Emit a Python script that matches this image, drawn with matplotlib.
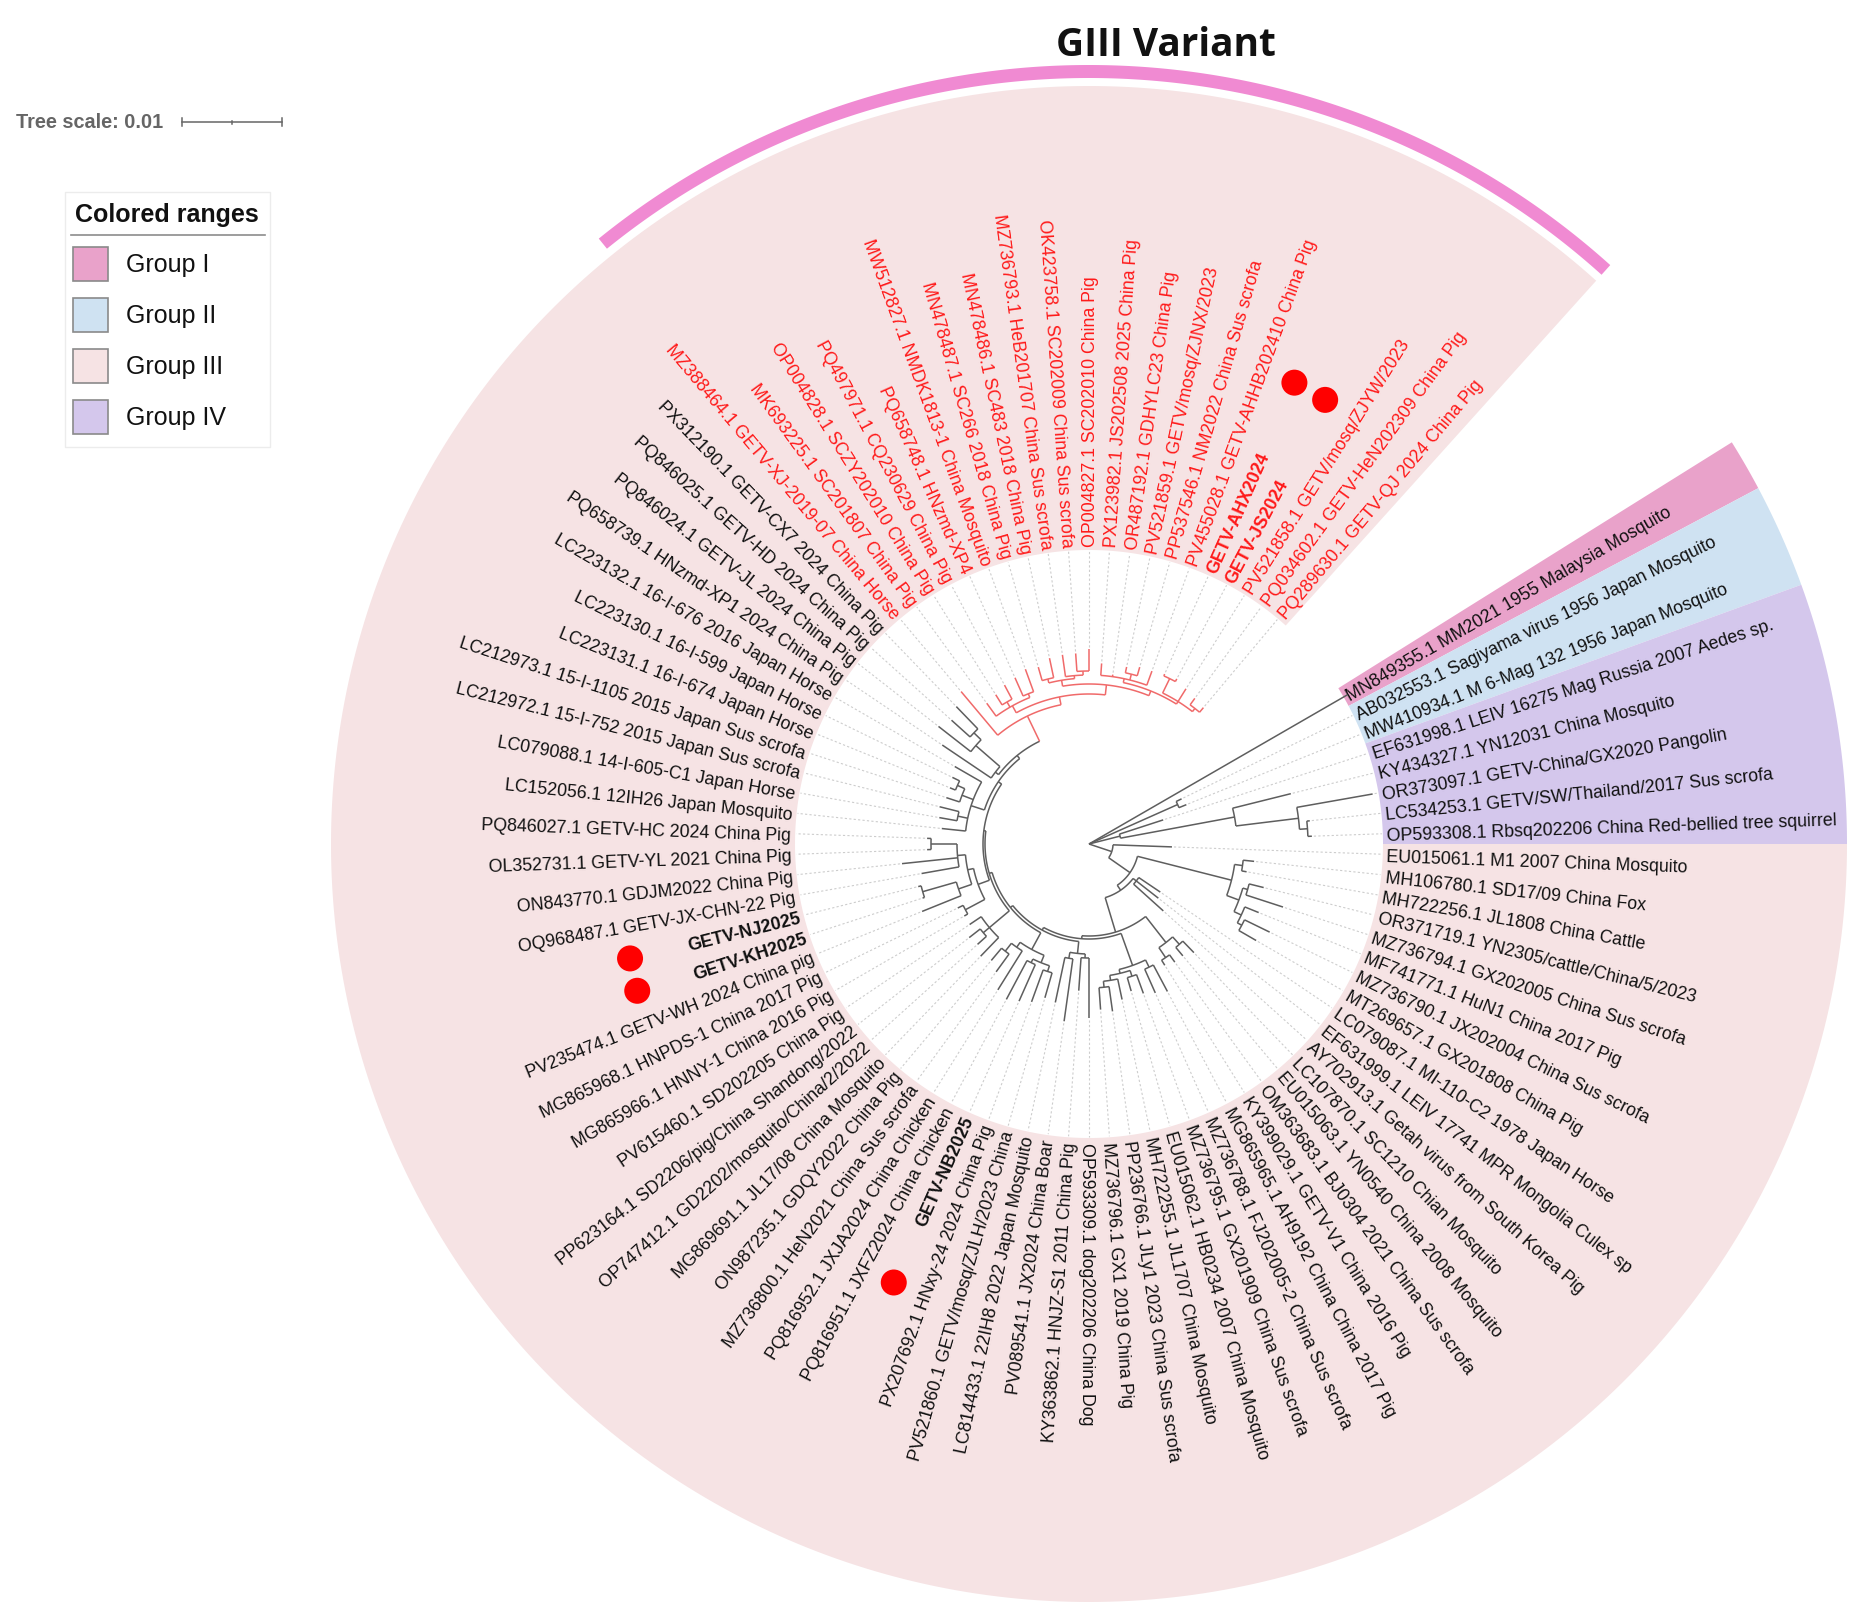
import numpy as np
import matplotlib.pyplot as plt
import matplotlib.patches as patches
from matplotlib.collections import LineCollection

# leaf labels, clockwise starting at Group I
labels = [
    'MN849355.1 MM2021 1955 Malaysia Mosquito',
    'AB032553.1 Sagiyama virus 1956 Japan Mosquito',
    'MW410934.1 M 6-Mag 132 1956 Japan Mosquito',
    'EF631998.1 LEIV 16275 Mag Russia 2007 Aedes sp.',
    'KY434327.1 YN12031 China Mosquito',
    'OR373097.1 GETV-China/GX2020 Pangolin',
    'LC534253.1 GETV/SW/Thailand/2017 Sus scrofa',
    'OP593308.1 Rbsq202206 China Red-bellied tree squirrel',
    'EU015061.1 M1 2007 China Mosquito',
    'MH106780.1 SD17/09 China Fox',
    'MH722256.1 JL1808 China Cattle',
    'OR371719.1 YN2305/cattle/China/5/2023',
    'MZ736794.1 GX202005 China Sus scrofa',
    'MF741771.1 HuN1 China 2017 Pig',
    'MZ736790.1 JX202004 China Sus scrofa',
    'MT269657.1 GX201808 China Pig',
    'LC079087.1 MI-110-C2 1978 Japan Horse',
    'EF631999.1 LEIV 17741 MPR Mongolia Culex sp',
    'AY702913.1 Getah virus from South Korea Pig',
    'LC107870.1 SC1210 Chian Mosquito',
    'EU015063.1 YN0540 China 2008 Mosquito',
    'OM363683.1 BJ0304 2021 China Sus scrofa',
    'KY399029.1 GETV-V1 China 2016 Pig',
    'MG865965.1 AH9192 China China 2017 Pig',
    'MZ736788.1 FJ202005-2 China Sus scrofa',
    'MZ736795.1 GX201909 China Sus scrofa',
    'EU015062.1 HB0234 2007 China Mosquito',
    'MH722255.1 JL1707 China Mosquito',
    'PP236766.1 JLy1 2023 China Sus scrofa',
    'MZ736796.1 GX1 2019 China Pig',
    'OP593309.1 dog202206 China Dog',
    'KY363862.1 HNJZ-S1 2011 China Pig',
    'PV089541.1 JX2024 China Boar',
    'LC814433.1 22IH8 2022 Japan Mosquito',
    'PV521860.1 GETV/mosq/ZJLH/2023 China',
    'PX207692.1 HNxy-24 2024 China Pig',
    'GETV-NB2025',
    'PQ816951.1 JXFZ2024 China Chicken',
    'PQ816952.1 JXJA2024 China Chicken',
    'MZ736800.1 HeN2021 China Sus scrofa',
    'ON987235.1 GDQY2022 China Pig',
    'MG869691.1 JL17/08 China Mosquito',
    'OP747412.1 GD2202/mosquito/China/2/2022',
    'PP623164.1 SD2206/pig/China Shandong/2022',
    'PV615460.1 SD202205 China Pig',
    'MG865966.1 HNNY-1 China 2016 Pig',
    'MG865968.1 HNPDS-1 China 2017 Pig',
    'PV235474.1 GETV-WH 2024 China pig',
    'GETV-KH2025',
    'GETV-NJ2025',
    'OQ968487.1 GETV-JX-CHN-22 Pig',
    'ON843770.1 GDJM2022 China Pig',
    'OL352731.1 GETV-YL 2021 China Pig',
    'PQ846027.1 GETV-HC 2024 China Pig',
    'LC152056.1 12IH26 Japan Mosquito',
    'LC079088.1 14-I-605-C1 Japan Horse',
    'LC212972.1 15-I-752 2015 Japan Sus scrofa',
    'LC212973.1 15-I-1105 2015 Japan Sus scrofa',
    'LC223131.1 16-I-674 Japan Horse',
    'LC223130.1 16-I-599 Japan Horse',
    'LC223132.1 16-I-676 2016 Japan Horse',
    'PQ658739.1 HNzmd-XP1 2024 China Pig',
    'PQ846024.1 GETV-JL 2024 China Pig',
    'PQ846025.1 GETV-HD 2024 China Pig',
    'PX312190.1 GETV-CX7 2024 China Pig',
    'MZ388464.1 GETV-XJ-2019-07 China Horse',
    'MK693225.1 SC201807 China Pig',
    'OP004828.1 SCZY202010 China Pig',
    'PQ497971.1 CQ230629 China Pig',
    'PQ658748.1 HNzmd-XP4',
    'MW512827.1 NMDK1813-1 China Mosquito',
    'MN478487.1 SC266 2018 China Pig',
    'MN478486.1 SC483 2018 China Pig',
    'MZ736793.1 HeB201707 China Sus scrofa',
    'OK423758.1 SC202009 China Sus scrofa',
    'OP004827.1 SC202010 China Pig',
    'PX123982.1 JS202508 2025 China Pig',
    'OR487192.1 GDHYLC23 China Pig',
    'PV521859.1 GETV/mosq/ZJNX/2023',
    'PP537546.1 NM2022 China Sus scrofa',
    'PV455028.1 GETV-AHHB202410 China Pig',
    'GETV-AHX2024',
    'GETV-JS2024',
    'PV521858.1 GETV/mosq/ZJYW/2023',
    'PQ034602.1 GETV-HeN202309 China Pig',
    'PQ289630.1 GETV-QJ 2024 China Pig',
]

variant_leaves = list(range(65, 86))     # GIII Variant (red)
bold_leaves = [36, 48, 49, 81, 82]       # new isolates
dot_leaves = [81, 82, 49, 48, 36]

group_names = ['Group I', 'Group II', 'Group III', 'Group IV']
group_colors = ['#e9a2ca', '#cfe2f2', '#f6e3e4', '#d4c7ec']
group_first = [0, 1, 8, 3]
group_last = [0, 2, 85, 7]

# tree, branch lengths in 1e-4 substitutions/site, leaves named by index
red_a = '(66:16,(67:12,68:16):6,(69:20,70:24):4)'
red_b = '((71:14,72:20):4,(73:22,(74:18,75:22):4):3)'
red_c = '(76:12,77:2,(78:6,79:9):6,80:15)'
red_d = '((81:2,82:3):16,83:15,(84:8,85:6):4)'
clade_red = '(65:57,(' + red_a + ':8,(' + red_b + ':6,(' + red_c + ':4,' + red_d + ':3):5):10):8)'
clade_61 = '(61:59,(62:41,(63:25,64:31):10):32)'
clade_54 = '(54:24,(55:18,56:20):10,(57:14,(58:6,59:8):8):12,60:31)'
clade_45 = '((45:4,46:6):22,((47:42,(48:2,49:3):35):14,(50:38,51:56,(52:4,53:4):26):8):6)'
clade_41 = '(41:26,(42:12,43:14):8,44:14)'
clade_34 = '(((34:26,35:34):6,(36:40,37:44):4):8,(38:46,(39:22,40:16):10):6)'
clade_30 = '((30:60,31:33):4,(32:63,33:46):6)'
clade_23 = '((23:30,24:26):8,((25:20,26:14):6,(27:21,(28:25,29:22):6):5):4)'
clade_19 = '((19:16,20:11):10,(21:9,22:6):12)'
clade_9 = '((9:11,10:5):8,((11:15,12:39):5,(13:15,(14:28,15:20):5):8):13)'

bb8 = '(' + clade_61 + ':4,' + clade_red + ':28)'
bb7 = '(' + clade_54 + ':14,' + bb8 + ':4)'
bb6 = '(' + clade_45 + ':12,' + bb7 + ':4)'
bb5 = '(' + clade_41 + ':26,' + bb6 + ':2)'
bb4 = '(' + clade_34 + ':19,' + bb5 + ':3)'
bb3 = '(' + clade_30 + ':12,' + bb4 + ':3)'
bb2 = '(' + clade_23 + ':34,' + bb3 + ':3)'
bb1 = '(' + clade_19 + ':33,' + bb2 + ':3)'
group3 = '(8:59,(' + clade_9 + ':97,((16:26,17:28,18:40):4,' + bb1 + ':36):6):26)'
newick = ('(0:298,(1:6,2:8):97,(3:46,(4:60,(5:77,(6:3,7:4):8):63):116):32,'
          + group3 + ':24);')

# layout
cx, cy = 1089, 845
first_angle, step = 30.0, 4.0
px_per_unit = 1.0          # 1e-4 subs/site -> px (0.01 = 100 px)
r_label = 298
r_in, r_out = 294, 758


def xy(r, a):
    t = np.radians(a)
    return cx + r * np.cos(t), cy - r * np.sin(t)


def leaf_angle(i):
    return first_angle - step * i


def parse_newick(s):
    pos = 0

    def read():
        nonlocal pos
        kids = []
        if s[pos] == '(':
            pos += 1
            kids.append(read())
            while s[pos] == ',':
                pos += 1
                kids.append(read())
            pos += 1
        start = pos
        while s[pos] not in ':,);':
            pos += 1
        name = s[start:pos]
        length = 0.0
        if s[pos] == ':':
            pos += 1
            start = pos
            while s[pos] not in ',);':
                pos += 1
            length = float(s[start:pos])
        return {'name': name, 'len': length, 'kids': kids}
    return read()


def place(node, r_parent):
    node['r'] = r_parent + node['len'] * px_per_unit
    if node['kids']:
        for k in node['kids']:
            place(k, node['r'])
        node['a'] = (node['kids'][0]['a'] + node['kids'][-1]['a']) / 2
        node['leaves'] = [i for k in node['kids'] for i in k['leaves']]
    else:
        node['a'] = leaf_angle(int(node['name']))
        node['leaves'] = [int(node['name'])]


black, red = '#5e5e5e', '#f06a6a'
segs = {black: [], red: []}
tips = []


def collect(node, color):
    if not node['kids']:
        tips.append(node)
        return
    angs = [k['a'] for k in node['kids']]
    if node['r'] > 0:
        a = np.linspace(min(angs), max(angs), 60)
        x, y = xy(node['r'], a)
        segs[color].append(np.column_stack([x, y]))
    for k in node['kids']:
        kc = red if sorted(k['leaves']) == variant_leaves else color
        x0, y0 = xy(node['r'], k['a'])
        x1, y1 = xy(k['r'], k['a'])
        segs[kc].append(np.array([[x0, y0], [x1, y1]]))
        collect(k, kc)


tree = parse_newick(newick)
place(tree, 0.0)
collect(tree, black)

fig = plt.figure(figsize=(18.56, 16.15), dpi=100)
ax = fig.add_axes([0, 0, 1, 1])
ax.set_xlim(0, 1856)
ax.set_ylim(1615, 0)
ax.axis('off')


def sector(r0, r1, a1, a2, color, z=0):
    a = np.linspace(a1, a2, 400)
    xo, yo = xy(r1, a)
    xi, yi = xy(r0, a[::-1])
    pts = np.column_stack([np.concatenate([xo, xi]), np.concatenate([yo, yi])])
    ax.add_patch(patches.Polygon(pts, closed=True, facecolor=color,
                                 edgecolor='none', zorder=z))


# colored ranges
for name, col, f, l in zip(group_names, group_colors, group_first, group_last):
    sector(r_in, r_out, leaf_angle(l) - step / 2, leaf_angle(f) + step / 2, col)

# GIII Variant arc
sector(766, 779, leaf_angle(variant_leaves[-1]) - step / 2,
       leaf_angle(variant_leaves[0]) - 1, '#f08ad2')
ax.text(1166, 45, 'GIII Variant', ha='center', va='center', fontsize=28,
        fontweight='bold', family=['Open Sans', 'DejaVu Sans'], color='#111111')

# branches
for col, s in segs.items():
    ax.add_collection(LineCollection(s, colors=col, linewidths=1.1,
                                     capstyle='butt', zorder=3))

# dotted connectors and labels
conn = []
for t in tips:
    x0, y0 = xy(t['r'] + 2, t['a'])
    x1, y1 = xy(r_label - 5, t['a'])
    conn.append(np.array([[x0, y0], [x1, y1]]))
ax.add_collection(LineCollection(conn, colors='#cdcdcd', linewidths=0.8,
                                 linestyles=(0, (2, 2)), zorder=2))

for i, lab in enumerate(labels):
    a = leaf_angle(i) % 360
    x, y = xy(r_label, a)
    if 90 < a < 270:
        rot, ha = a - 180, 'right'
    else:
        rot, ha = (a - 360 if a >= 270 else a), 'left'
    ax.text(x, y, lab, rotation=rot, rotation_mode='anchor', ha=ha,
            va='center_baseline', fontsize=12.8,
            family=['Liberation Sans', 'DejaVu Sans'],
            fontweight='bold' if i in bold_leaves else 'normal',
            color='#ff1a1a' if i in variant_leaves else '#111111', zorder=4)

# red dots for the new isolates
dot_radius_px = [505, 503, 473, 475, 480]
for i, rr in zip(dot_leaves, dot_radius_px):
    x, y = xy(rr, leaf_angle(i))
    ax.add_patch(patches.Circle((x, y), 13, facecolor='#ff0000',
                                edgecolor='none', zorder=5))

# tree scale
ax.text(16, 123, 'Tree scale: 0.01', ha='left', va='center', fontsize=14.3,
        fontweight='bold', color='#666666', family=['Liberation Sans', 'DejaVu Sans'])
bar_len = 0.01 * 1e4 * px_per_unit
bx0 = 182
ax.plot([bx0, bx0 + bar_len], [123, 123], color='#666666', lw=1.1)
for bx, h in [(bx0, 4), (bx0 + bar_len / 2, 1.5), (bx0 + bar_len, 4)]:
    ax.plot([bx, bx], [123 - h, 123 + h], color='#666666', lw=1.1)

# legend
ax.add_patch(patches.Rectangle((65, 193), 205, 255, facecolor='white',
                               edgecolor='#ececec', lw=1, zorder=1))
ax.text(75, 215, 'Colored ranges', ha='left', va='center', fontsize=18,
        fontweight='bold', family=['Liberation Sans', 'DejaVu Sans'], color='#111111')
ax.plot([71, 265], [236, 236], color='#8c8c8c', lw=1.2)
for k, (name, col) in enumerate(zip(group_names, group_colors)):
    yc = 265 + 51 * k
    ax.add_patch(patches.Rectangle((73, yc - 17), 35, 34, facecolor=col,
                                   edgecolor='#8a8a8a', lw=1.2, zorder=2))
    ax.text(126, yc, name, ha='left', va='center', fontsize=18,
            family=['Liberation Sans', 'DejaVu Sans'], color='#111111')

fig.savefig('out.png', dpi=100)
